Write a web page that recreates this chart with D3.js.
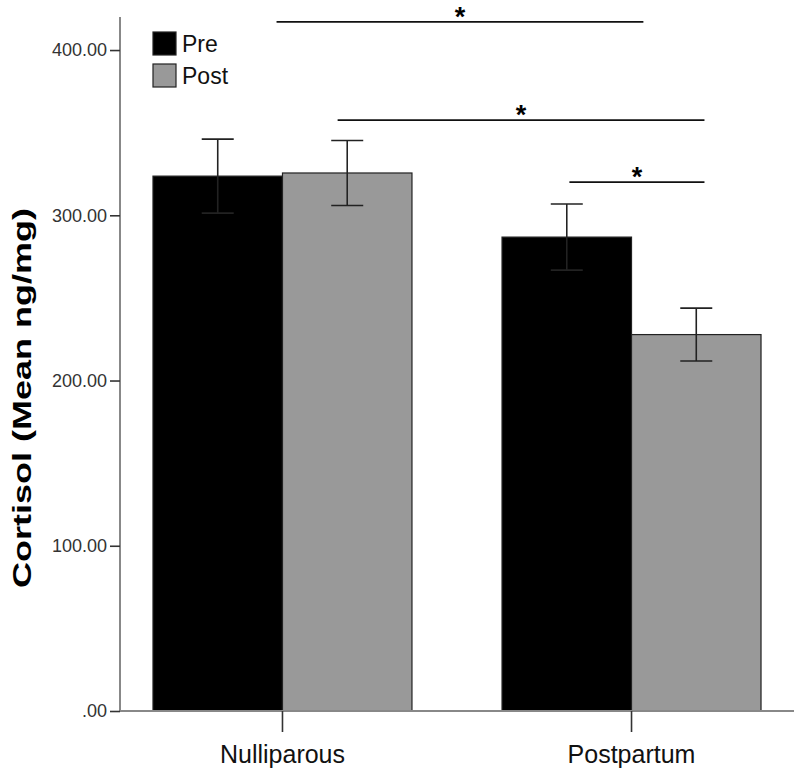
<!DOCTYPE html>
<html>
<head>
<meta charset="utf-8">
<script src="https://cdn.jsdelivr.net/npm/d3@7"></script>
<style>
  html, body { margin: 0; padding: 0; background: #fff; }
  svg { display: block; font-family: "Liberation Sans", Arial, sans-serif; }
</style>
</head>
<body>
<svg id="chart" width="800" height="775"></svg>
<script>
// ---- data ----
const categories = ["Nulliparous", "Postpartum"];
const seriesNames = ["Pre", "Post"];
const preMeans = [323.7, 286.8];
const postMeans = [325.6, 227.8];
const preSE = [22.4, 20.0];
const postSE = [19.7, 16.0];
const yTickValues = [0, 100, 200, 300, 400];
const yTickLabels = [".00", "100.00", "200.00", "300.00", "400.00"];
const yTitle = "Cortisol (Mean ng/mg)";
// significance brackets: x in group units (0 = Nulliparous, 1 = Postpartum), y in data units
const sigFrom = [-0.017, 0.158, 0.822];
const sigTo = [1.034, 1.209, 1.209];
const sigLevel = [417, 357.6, 320.1];
const sigLabel = ["*", "*", "*"];

const colors = ["#000000", "#999999"];

const svg = d3.select("#chart");

const x0 = d3.scaleBand().domain(categories).range([120, 794])
  .paddingInner(0.258).paddingOuter(0.0945);
const x1 = d3.scaleBand().domain(seriesNames).range([0, x0.bandwidth()]);
const y = d3.scaleLinear().domain([0, 420]).range([711, 17]);
const xg = d3.scaleLinear().domain([0, 1])
  .range([x0(categories[0]) + x0.bandwidth() / 2, x0(categories[1]) + x0.bandwidth() / 2]);

const rows = [];
categories.forEach((c, i) => {
  rows.push({cat: c, s: "Pre", v: preMeans[i], se: preSE[i], color: colors[0]});
  rows.push({cat: c, s: "Post", v: postMeans[i], se: postSE[i], color: colors[1]});
});

// bars
svg.append("g").selectAll("rect").data(rows).join("rect")
  .attr("x", d => x0(d.cat) + x1(d.s))
  .attr("y", d => y(d.v))
  .attr("width", x1.bandwidth())
  .attr("height", d => y(0) - y(d.v))
  .attr("fill", d => d.color)
  .attr("stroke", "#222")
  .attr("stroke-width", 1.2);

// error bars
const eb = svg.append("g").attr("stroke", "#222").attr("stroke-width", 1.6);
rows.forEach(d => {
  const cx = x0(d.cat) + x1(d.s) + x1.bandwidth() / 2;
  eb.append("line").attr("x1", cx).attr("x2", cx).attr("y1", y(d.v + d.se)).attr("y2", y(d.v - d.se));
  eb.append("line").attr("x1", cx - 16).attr("x2", cx + 16).attr("y1", y(d.v + d.se)).attr("y2", y(d.v + d.se));
  eb.append("line").attr("x1", cx - 16).attr("x2", cx + 16).attr("y1", y(d.v - d.se)).attr("y2", y(d.v - d.se));
});

// y axis
const yAxis = d3.axisLeft(y).tickValues(yTickValues)
  .tickFormat((d, i) => yTickLabels[i]).tickSize(10).tickPadding(3);
const gy = svg.append("g").attr("transform", "translate(120,0)").call(yAxis);
gy.select(".domain").attr("stroke", "#888").attr("stroke-width", 2).attr("d", `M0,${y(420)}V${y(0)}`);
gy.selectAll(".tick line").attr("stroke", "#333").attr("stroke-width", 1.6);
gy.selectAll(".tick text").attr("fill", "#333").style("font-size", "18px");

// x axis
const xAxis = d3.axisBottom(x0).tickSize(21).tickPadding(13);
const gx = svg.append("g").attr("transform", `translate(0,${y(0)})`).call(xAxis);
gx.select(".domain").attr("stroke", "#888").attr("stroke-width", 2).attr("d", "M120,0H794");
gx.selectAll(".tick line").attr("stroke", "#333").attr("stroke-width", 1.6);
gx.selectAll(".tick text").attr("fill", "#111").style("font-size", "25px");

// y title
svg.append("text")
  .attr("transform", `translate(31,${(y(0) + y(420)) / 2 + 34}) rotate(-90)`)
  .attr("text-anchor", "middle")
  .attr("textLength", 380)
  .attr("lengthAdjust", "spacingAndGlyphs")
  .style("font-size", "25px").style("font-weight", "bold")
  .attr("fill", "#000")
  .text(yTitle);

// significance brackets
const sig = svg.append("g");
sigLevel.forEach((lv, i) => {
  sig.append("line")
    .attr("x1", xg(sigFrom[i])).attr("x2", xg(sigTo[i]))
    .attr("y1", y(lv)).attr("y2", y(lv))
    .attr("stroke", "#111").attr("stroke-width", 1.8);
  sig.append("text")
    .attr("x", xg((sigFrom[i] + sigTo[i]) / 2))
    .attr("y", y(lv) + 4)
    .attr("text-anchor", "middle")
    .style("font-size", "27px").style("font-weight", "bold")
    .text(sigLabel[i]);
});

// legend
const lg = svg.append("g").attr("transform", "translate(153,32)");
seriesNames.forEach((s, i) => {
  lg.append("rect").attr("x", 0).attr("y", i * 32).attr("width", 23).attr("height", 23)
    .attr("fill", colors[i]).attr("stroke", "#222").attr("stroke-width", 1.2);
  lg.append("text").attr("x", 29).attr("y", i * 32 + 20)
    .style("font-size", "23px").attr("fill", "#111").text(s);
});
</script>
</body>
</html>
